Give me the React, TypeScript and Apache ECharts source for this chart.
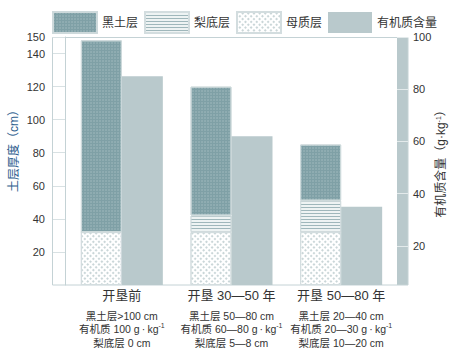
import React, { useEffect, useRef } from 'react';
import * as echarts from 'echarts';

const categories = ['开垦前', '开垦 30—50 年', '开垦 50—80 年'];
const descSoil = ['黑土层>100 cm', '黑土层 50—80 cm', '黑土层 20—40 cm'];
const descOrganic = ['有机质 100 g\u2009·\u2009kg', '有机质 60—80 g\u2009·\u2009kg', '有机质 20—30 g\u2009·\u2009kg'];
const descPlow = ['梨底层 0 cm', '梨底层 5—8 cm', '梨底层 10—20 cm'];
const seriesNames = ['黑土层', '梨底层', '母质层', '有机质含量'];
const parentLayer = [32, 32, 32];
const plowLayer = [0, 10, 19];
const blackLayer = [116, 78, 34];
const organicMatter = [85, 62, 35];
const leftTicks = [20, 40, 60, 80, 100, 120, 140, 150];
const rightTicks = [20, 40, 60, 80, 100];

const FONT = '"Liberation Sans", "Noto Sans CJK SC", sans-serif';
const FRAME = '#c4d2d5';
const ORGANIC = '#b9c9cc';

const option: any = {
  animation: false,
  backgroundColor: '#ffffff',
  textStyle: { fontFamily: FONT },
  legend: {
    data: seriesNames,
    left: 52,
    top: 11,
    padding: 0,
    itemWidth: 44,
    itemHeight: 21,
    itemGap: 6,
    icon: 'rect',
    textStyle: { fontSize: 12, color: '#333', fontFamily: FONT },
  },
  grid: { left: 66, right: 65, top: 37, bottom: 71, containLabel: false },
  graphic: [
    {
      type: 'rect',
      z: -10,
      shape: { x: 397, y: 37, width: 11, height: 248 },
      style: { fill: ORGANIC },
    },
    {
      type: 'rect',
      z: -10,
      shape: { x: 52.5, y: 37.5, width: 355.5, height: 247.5 },
      style: { fill: 'none', stroke: FRAME, lineWidth: 1 },
    },
  ],
  xAxis: [
    {
      type: 'category',
      data: categories,
      position: 'bottom',
      axisLine: { show: false },
      axisTick: { show: false },
      axisLabel: { interval: 0, hideOverlap: false, fontSize: 13, color: '#333', margin: 4, fontFamily: FONT },
    },
    {
      type: 'category',
      data: categories,
      position: 'bottom',
      axisLine: { show: false },
      axisTick: { show: false },
      axisLabel: {
        interval: 0,
        hideOverlap: false,
        margin: 24,
        color: '#333',
        formatter: (_v: string, i: number) =>
          `{d|${descSoil[i]}}\n{d|${descOrganic[i]}}{s|-1}\n{d|${descPlow[i]}}`,
        rich: {
          d: { fontSize: 10.5, lineHeight: 13.5, color: '#333', fontFamily: FONT },
          s: { fontSize: 7, lineHeight: 7, verticalAlign: 'top', color: '#333', fontFamily: FONT },
        },
      },
    },
  ],
  yAxis: [
    {
      type: 'value',
      position: 'left',
      offset: 2,
      min: 0,
      max: 150,
      name: '土层厚度（cm）',
      nameLocation: 'middle',
      nameGap: 45,
      nameMoveOverlap: false,
      nameTextStyle: { fontSize: 12, color: '#2e5e8e', padding: [0, 0, 0, 26], fontFamily: FONT },
      axisLine: { show: true, lineStyle: { color: FRAME, width: 1 } },
      axisTick: { show: true, inside: false, length: 12, customValues: leftTicks, lineStyle: { color: '#d8e1e3' } },
      axisLabel: { customValues: leftTicks, fontSize: 11, color: '#333', margin: 20, fontFamily: FONT },
      splitLine: { show: false },
    },
    {
      type: 'value',
      position: 'right',
      offset: 1,
      min: 5,
      max: 100,
      z: 10,
      name: '{a|有机质含量（g·kg}{s|-1}{a|）}',
      nameLocation: 'middle',
      nameGap: 38,
      nameMoveOverlap: false,
      nameTextStyle: {
        rich: {
          a: { fontSize: 12, color: '#333', fontFamily: FONT },
          s: { fontSize: 7, lineHeight: 7, verticalAlign: 'top', color: '#333', fontFamily: FONT },
        },
      },
      axisLine: { show: false },
      axisTick: { show: true, inside: false, length: 11, customValues: rightTicks, lineStyle: { color: '#e3eaeb' } },
      axisLabel: { customValues: rightTicks, fontSize: 11, color: '#333', margin: 16, fontFamily: FONT },
      splitLine: { show: false },
    },
  ],
  series: [
    {
      name: '母质层',
      type: 'bar',
      stack: 'soil',
      xAxisIndex: 0,
      yAxisIndex: 0,
      barWidth: 41,
      barGap: '0%',
      data: parentLayer,
      itemStyle: {
        color: '#ffffff',
        borderColor: '#d3dddf',
        borderWidth: 1,
        decal: {
          symbol: 'rect',
          symbolSize: 1,
          dashArrayX: [1.5, 1.5],
          dashArrayY: [1.5, 1.5],
          rotation: Math.PI / 4,
          color: '#cad6d8',
        },
      },
    },
    {
      name: '梨底层',
      type: 'bar',
      stack: 'soil',
      xAxisIndex: 0,
      yAxisIndex: 0,
      barWidth: 41,
      barGap: '0%',
      data: plowLayer,
      itemStyle: {
        color: '#eef3f3',
        borderColor: '#d3dddf',
        borderWidth: 1,
        decal: {
          symbol: 'rect',
          symbolSize: 1,
          dashArrayX: [1, 0],
          dashArrayY: [1, 2],
          rotation: 0,
          color: '#9fb7bb',
        },
      },
    },
    {
      name: '黑土层',
      type: 'bar',
      stack: 'soil',
      xAxisIndex: 0,
      yAxisIndex: 0,
      barWidth: 41,
      barGap: '0%',
      data: blackLayer,
      itemStyle: {
        color: '#7fa0a6',
        borderColor: '#cdd9db',
        borderWidth: 1,
        decal: {
          symbol: 'circle',
          symbolSize: 0.6,
          dashArrayX: [2, 1],
          dashArrayY: [2, 1],
          rotation: 0,
          color: 'rgba(225,238,240,0.45)',
        },
      },
    },
    {
      name: '有机质含量',
      type: 'bar',
      xAxisIndex: 0,
      yAxisIndex: 1,
      barWidth: 41,
      barGap: '0%',
      data: organicMatter,
      itemStyle: { color: ORGANIC },
    },
  ],
};

export default function App() {
  const ref = useRef<HTMLDivElement>(null);
  useEffect(() => {
    const chart = echarts.init(ref.current as HTMLDivElement, null, { renderer: 'svg' });
    chart.setOption(option);
    return () => chart.dispose();
  }, []);
  return (
    <div
      ref={ref}
      style={{ position: 'fixed', left: 0, top: 0, width: 461, height: 356, background: '#fff' }}
    />
  );
}
